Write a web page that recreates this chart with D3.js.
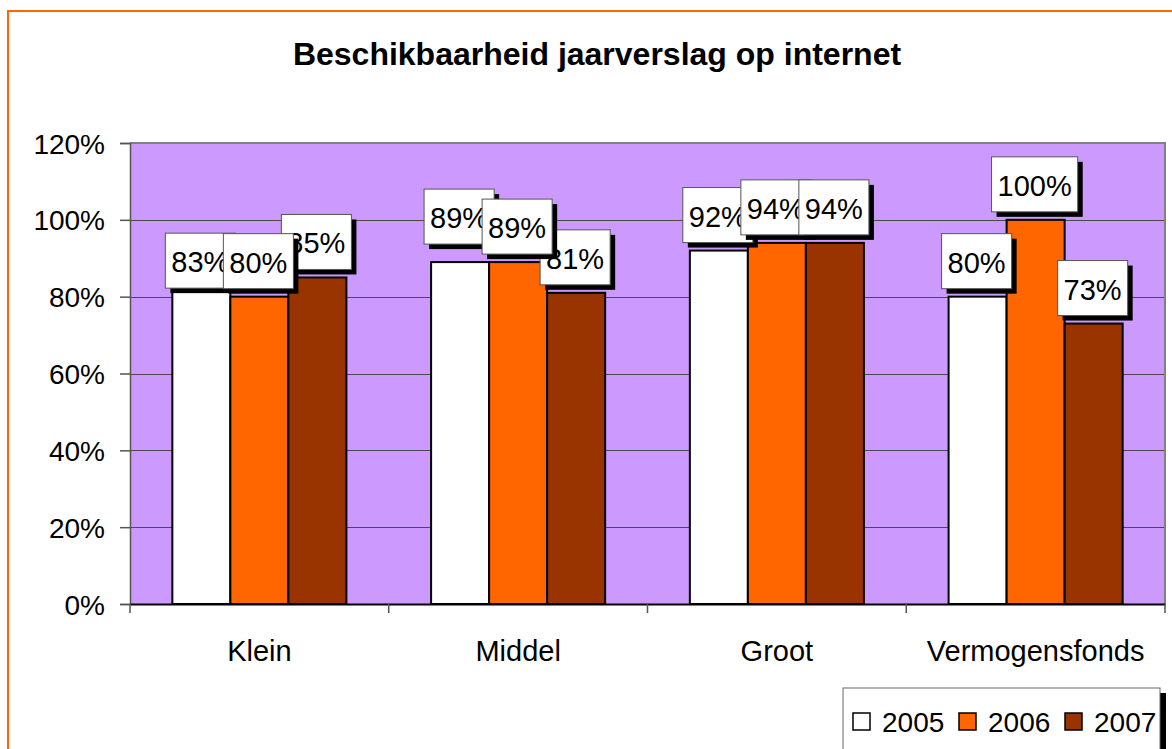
<!DOCTYPE html>
<html>
<head>
<meta charset="utf-8">
<script src="https://cdn.jsdelivr.net/npm/d3@7"></script>
<style>
  body { margin: 0; background: #fff; }
  svg { display: block; font-family: Arial, 'Liberation Sans', sans-serif; }
</style>
</head>
<body>
<svg id="chart"></svg>
<script>
// chart data
const categories = ['Klein', 'Middel', 'Groot', 'Vermogensfonds'];
const years = ['2005', '2006', '2007'];
const values2005 = [0.83, 0.89, 0.92, 0.80];
const values2006 = [0.80, 0.89, 0.94, 1.00];
const values2007 = [0.85, 0.81, 0.94, 0.73];
const yTicks = [0, 0.2, 0.4, 0.6, 0.8, 1.0, 1.2];
const title = 'Beschikbaarheid jaarverslag op internet';

const seriesValues = [values2005, values2006, values2007];
const colors = ['#FFFFFF', '#FF6600', '#993300'];

// label z-order per category: the year drawn last sits on top
const topLabel = ['2006', '2006', '2007', '2006'];
// manual nudges the original chart applied to a few labels (px, downward)
const labelNudge = { 'Klein-2005': 11, 'Middel-2005': -10 };

const dim = { width: 1172, height: 749 };
const plot = { x0: 130, x1: 1165, y0: 143, y1: 604 };

const svg = d3.select('#chart')
  .attr('width', dim.width)
  .attr('height', dim.height);

// outer orange frame (runs off the bottom/right edge)
svg.append('rect')
  .attr('x', 8).attr('y', 11)
  .attr('width', dim.width + 20).attr('height', dim.height + 20)
  .attr('fill', 'none')
  .attr('stroke', '#FF6600')
  .attr('stroke-width', 2);

svg.append('text')
  .attr('x', 597).attr('y', 65)
  .attr('text-anchor', 'middle')
  .attr('font-size', 32)
  .attr('font-weight', 'bold')
  .text(title);

const x = d3.scaleBand()
  .domain(categories)
  .range([plot.x0, plot.x1]);

const xInner = d3.scaleBand()
  .domain(years)
  .range([0, x.bandwidth()])
  .paddingOuter(0.73);

const y = d3.scaleLinear()
  .domain([0, 1.2])
  .range([plot.y1, plot.y0]);

// plot background
svg.append('rect')
  .attr('x', plot.x0).attr('y', plot.y0)
  .attr('width', plot.x1 - plot.x0).attr('height', plot.y1 - plot.y0)
  .attr('fill', '#CC99FF');

// gridlines
svg.append('g')
  .selectAll('line')
  .data(yTicks.filter(t => t > 0 && t < 1.2))
  .join('line')
  .attr('x1', plot.x0).attr('x2', plot.x1)
  .attr('y1', d => Math.round(y(d)) + 0.5).attr('y2', d => Math.round(y(d)) + 0.5)
  .attr('stroke', '#4a4a4a')
  .attr('stroke-width', 1);

// plot border top + right
svg.append('path')
  .attr('d', `M${plot.x0},${plot.y0}H${plot.x1}V${plot.y1}`)
  .attr('fill', 'none')
  .attr('stroke', '#808080')
  .attr('stroke-width', 2);

// y axis
const yAxis = d3.axisLeft(y)
  .tickValues(yTicks)
  .tickFormat(d3.format('.0%'))
  .tickSize(10)
  .tickPadding(15);

const yg = svg.append('g')
  .attr('transform', `translate(${plot.x0},0)`)
  .call(yAxis);
yg.select('.domain').attr('stroke', '#555').attr('stroke-width', 1.5);
yg.selectAll('.tick line').attr('stroke', '#555').attr('stroke-width', 1.5);
yg.selectAll('.tick text')
  .attr('font-size', 28)
  .attr('font-family', null)
  .attr('fill', '#000')
  .attr('dy', '0.36em');

// bars
years.forEach((year, s) => {
  svg.append('g')
    .selectAll('rect')
    .data(categories.map((c, i) => ({ c, v: seriesValues[s][i] })))
    .join('rect')
    .attr('x', d => x(d.c) + xInner(year))
    .attr('y', d => y(d.v))
    .attr('width', xInner.bandwidth())
    .attr('height', d => y(0) - y(d.v))
    .attr('fill', colors[s])
    .attr('stroke', '#000')
    .attr('stroke-width', 2);
});

// x axis
const xAxis = d3.axisBottom(x)
  .tickSize(0)
  .tickPadding(36);

const xg = svg.append('g')
  .attr('transform', `translate(0,${plot.y1})`)
  .call(xAxis);
xg.select('.domain').attr('stroke', '#000').attr('stroke-width', 2);
xg.selectAll('.tick text')
  .attr('font-size', 29)
  .attr('font-family', null)
  .attr('fill', '#000');

// category boundary ticks
xg.append('g')
  .selectAll('line')
  .data(categories.map(c => x(c)).concat([plot.x1]))
  .join('line')
  .attr('x1', d => d).attr('x2', d => d)
  .attr('y1', 0).attr('y2', 9)
  .attr('stroke', '#555')
  .attr('stroke-width', 1.5);

// data labels: white box with black drop shadow
const fmt = d3.format('.0%');
const labelFont = 29;
const boxH = 55, boxPad = 6, gap = 8, shadow = 5;

const labels = [];
categories.forEach((c, i) => {
  const order = years.filter(yr => yr !== topLabel[i]).concat([topLabel[i]]);
  order.forEach(year => {
    const s = years.indexOf(year);
    labels.push({ c, year, v: seriesValues[s][i] });
  });
});

const labelLayer = svg.append('g');
labels.forEach(d => {
  const cx = x(d.c) + xInner(d.year) + xInner.bandwidth() / 2 - 1;
  const text = fmt(d.v);
  const g = labelLayer.append('g');
  const t = g.append('text')
    .attr('font-size', labelFont)
    .attr('text-anchor', 'middle')
    .text(text);
  const tw = t.node().getComputedTextLength();
  const bw = tw + 2 * boxPad;
  const bottom = y(d.v) - gap + (labelNudge[`${d.c}-${d.year}`] || 0);
  const top = bottom - boxH;

  g.insert('rect', 'text')
    .attr('x', cx - bw / 2 + shadow).attr('y', top + shadow)
    .attr('width', bw).attr('height', boxH)
    .attr('fill', '#000');
  g.insert('rect', 'text')
    .attr('x', cx - bw / 2).attr('y', top)
    .attr('width', bw).attr('height', boxH)
    .attr('fill', '#fff')
    .attr('stroke', '#555')
    .attr('stroke-width', 1);
  t.attr('x', cx).attr('y', top + 39);
});

// legend
const legend = { x: 843, y: 688, width: 317, height: 80 };
svg.append('rect')
  .attr('x', legend.x + 6).attr('y', legend.y + 5)
  .attr('width', legend.width).attr('height', legend.height)
  .attr('fill', '#000');
svg.append('rect')
  .attr('x', legend.x).attr('y', legend.y)
  .attr('width', legend.width).attr('height', legend.height)
  .attr('fill', '#fff')
  .attr('stroke', '#666')
  .attr('stroke-width', 1);

const legendItemX = [853, 959, 1065];
years.forEach((year, s) => {
  svg.append('rect')
    .attr('x', legendItemX[s]).attr('y', 713)
    .attr('width', 17).attr('height', 17)
    .attr('fill', colors[s])
    .attr('stroke', '#000')
    .attr('stroke-width', 1.5);
  svg.append('text')
    .attr('x', legendItemX[s] + 29).attr('y', 732)
    .attr('font-size', 28)
    .text(year);
});
</script>
</body>
</html>
